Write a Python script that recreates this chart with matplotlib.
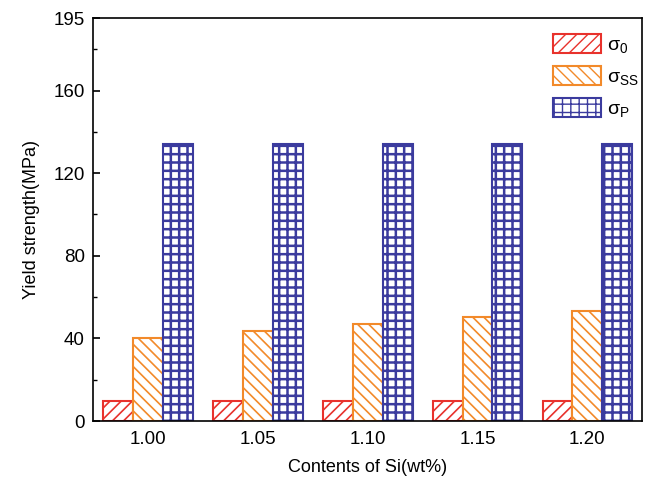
import matplotlib
matplotlib.use("Agg")
import matplotlib.pyplot as plt
import numpy as np
from matplotlib.patches import Patch

plt.rcParams['font.family'] = ['Liberation Sans', 'DejaVu Sans']
plt.rcParams['mathtext.fontset'] = 'custom'
plt.rcParams['mathtext.rm'] = 'Liberation Sans'
plt.rcParams['mathtext.it'] = 'Liberation Sans'

categories = ['1.00', '1.05', '1.10', '1.15', '1.20']
sigma0 = [9.7, 9.7, 9.7, 9.7, 9.7]
sigma_ss = [40.2, 43.5, 47.0, 50.3, 53.2]
sigma_p = [134, 134, 134, 134, 134]
labels = ['σ$_0$', 'σ$_{SS}$', 'σ$_P$']

colors = ['#e8322c', '#f28a2a', '#3b3b9e']
hatches = ['///', '\\\\\\', '++']

fig = plt.figure(figsize=(6.52, 4.93), dpi=100)
ax = fig.add_axes([0.143, 0.146, 0.842, 0.817])

x = np.arange(len(categories))
w = 0.272
series = [sigma0, sigma_ss, sigma_p]
hlw = [1.2, 1.2, 1.8]
for i, vals in enumerate(series):
    bars = ax.bar(x + (i - 1) * w, vals, width=w, facecolor='white',
                  edgecolor=colors[i], hatch=hatches[i], linewidth=1.5)
    for b in bars:
        b.set_hatch_linewidth(hlw[i])

handles = []
for i in range(3):
    p = Patch(facecolor='white', edgecolor=colors[i], hatch=hatches[i], linewidth=1.5, label=labels[i])
    p.set_hatch_linewidth(hlw[i])
    handles.append(p)
ax.legend(handles=handles, loc='upper right', frameon=False, fontsize=14,
          handlelength=2.5, handleheight=1.15, handletextpad=0.3,
          labelspacing=0.55, borderaxespad=0.4, bbox_to_anchor=(1.022, 1.0))

ax.set_xlim(-0.5, 4.5)
ax.set_ylim(0, 195)
ax.set_xticks(x)
ax.set_xticklabels(categories)
ax.set_yticks([0, 40, 80, 120, 160, 195])
ax.set_yticks([20, 60, 100, 140, 180], minor=True)
ax.tick_params(axis='x', length=0, labelsize=13.5, pad=7)
ax.tick_params(axis='y', which='major', direction='in', length=5, width=1.2, labelsize=13.5, pad=6)
ax.tick_params(axis='y', which='minor', direction='in', length=3, width=1.0)
for s in ax.spines.values():
    s.set_linewidth(1.2)

ax.set_xlabel('Contents of Si(wt%)', fontsize=13, labelpad=8)
ax.set_ylabel('Yield strength(MPa)', fontsize=13, labelpad=10)

fig.savefig('out.png', dpi=100)
